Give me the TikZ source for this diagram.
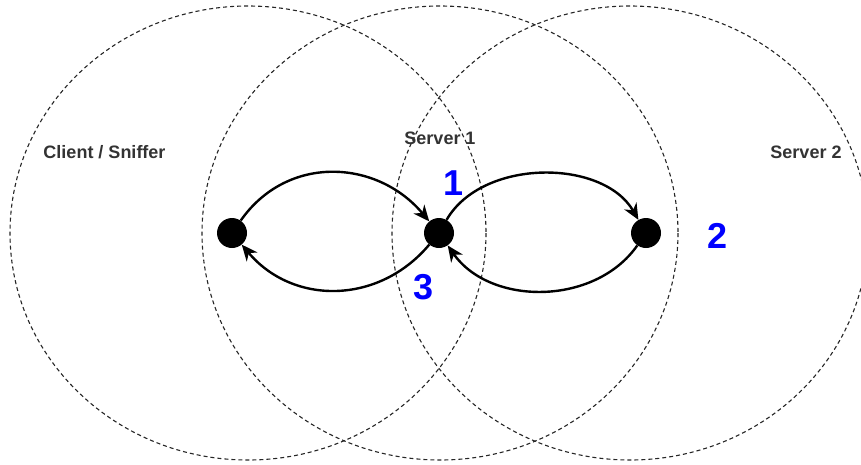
\documentclass[tikz,border=0pt]{standalone}
\usepackage{fontspec}
\setmainfont{Liberation Sans}
\usetikzlibrary{arrows.meta}
\definecolor{labelgray}{HTML}{333333}
\definecolor{stepblue}{HTML}{0000FF}
\begin{document}
\begin{tikzpicture}[x=1pt,y=-1pt,
  zone/.style={draw=black!85,dash pattern=on 4pt off 3pt,line width=1.1pt},
  host/.style={circle,fill=black,inner sep=0pt,minimum size=30pt},
  flow/.style={-{Stealth[length=16pt,width=14pt,inset=5pt]},line width=2.4pt},
  tag/.style={inner sep=0pt,font=\bfseries\fontsize{18}{20}\selectfont,text=labelgray},
  num/.style={inner sep=0pt,font=\bfseries\fontsize{36}{38}\selectfont,text=stepblue}]
  \useasboundingbox (0,0) rectangle (861,464);
  \clip (0,0) rectangle (861,464);
  % Radio ranges
  \draw[zone] (248,233) ellipse [x radius=238, y radius=227];
  \draw[zone] (440,233) ellipse [x radius=238, y radius=227];
  \draw[zone] (630,233) ellipse [x radius=238, y radius=227];
  % Range labels
  \node[tag] (cliname) at (104.5,152) {Client / Sniffer};
  \node[tag] (srv1name) at (440,138) {Server 1};
  \node[tag] (srv2name) at (806,152) {Server 2};
  % Hosts
  \node[host] (cli) at (232,233) {};
  \node[host] (srv1) at (439,233) {};
  \node[host] (srv2) at (646,233) {};
  % Messages
  \draw[flow] (cli) to[out=55,in=130,looseness=1.1] (srv1);
  \draw[flow] (srv1) to[out=-130,in=-50,looseness=1.08] (cli);
  \draw[flow] (srv1) to[out=60,in=120,looseness=0.95] (srv2);
  \draw[flow] (srv2) to[out=-125,in=-55,looseness=1.0] (srv1);
  % Step numbers
  \node[num] (stepone) at (454,183) {1};
  \node[num] (steptwo) at (717,236) {2};
  \node[num] (stepthree) at (424,287) {3};
\end{tikzpicture}
\end{document}
